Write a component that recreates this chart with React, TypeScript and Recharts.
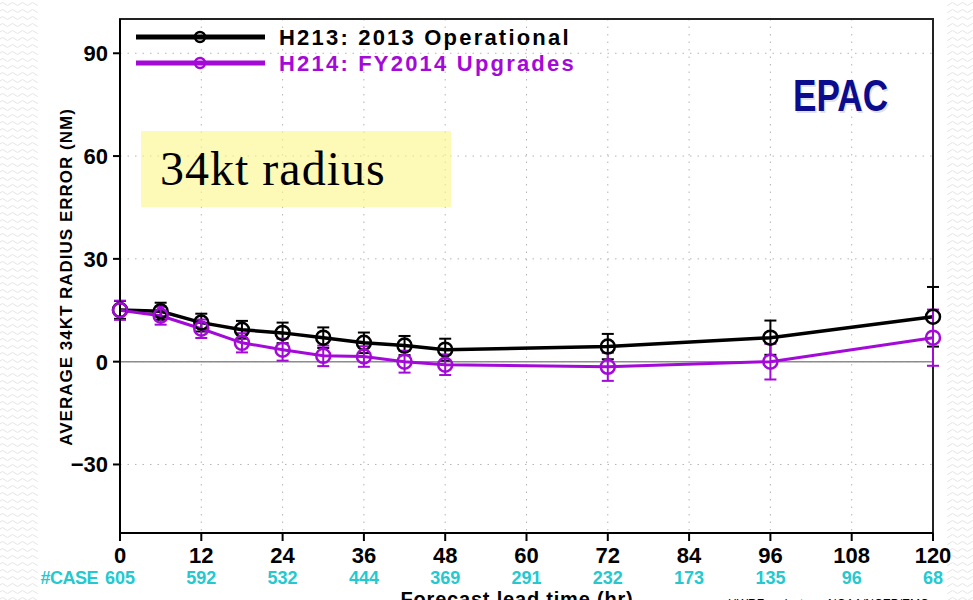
import {
  LineChart,
  Line,
  XAxis,
  YAxis,
  CartesianGrid,
  ReferenceLine,
  ReferenceArea,
  ErrorBar,
  Legend,
} from 'recharts';

// forecast lead times that have verification
const hours = [0, 6, 12, 18, 24, 30, 36, 42, 48, 72, 96, 120];
// average 34kt radius error (NM)
const h213 = [15.1, 14.7, 11.4, 9.3, 8.4, 7.0, 5.5, 4.7, 3.5, 4.4, 7.0, 13.1];
const h214 = [15.0, 13.4, 9.6, 5.5, 3.5, 1.7, 1.5, 0.0, -0.9, -1.5, 0.0, 7.0];
// error bar half-widths
const h213Err = [2.6, 2.5, 2.6, 2.6, 3.0, 3.0, 3.0, 2.8, 3.2, 3.7, 5.0, 8.7];
const h214Err = [2.8, 2.6, 2.7, 2.8, 3.2, 3.0, 3.0, 3.2, 3.0, 4.1, 5.2, 8.2];

const xTicks = [0, 12, 24, 36, 48, 60, 72, 84, 96, 108, 120];
const caseCounts = [605, 592, 532, 444, 369, 291, 232, 173, 135, 96, 68];
const yTicks = [-30, 0, 30, 60, 90];

const BLACK = '#000000';
const PURPLE = '#a30ad8';
const CYAN = '#24c9d0';
const FONT = '"Liberation Sans", Arial, sans-serif';

const legendItems = [
  { name: 'H213: 2013 Operational', color: BLACK },
  { name: 'H214: FY2014 Upgrades', color: PURPLE },
];

const data = hours.map((hr, i) => ({
  hr,
  h213: h213[i],
  h214: h214[i],
  h213Err: h213Err[i],
  h214Err: h214Err[i],
}));

function HourTick(props: any) {
  const { x, y, payload, index } = props;
  return (
    <g>
      <text x={x} y={y + 20} textAnchor="middle" fontFamily={FONT} fontWeight="bold" fontSize={22} fill="#000">
        {payload.value}
      </text>
      <text x={x} y={y + 41} textAnchor="middle" fontFamily={FONT} fontWeight="bold" fontSize={18} fill={CYAN}>
        {caseCounts[index]}
      </text>
      {index === 0 && (
        <text x={x - 22} y={y + 41} textAnchor="end" fontFamily={FONT} fontWeight="bold" fontSize={18} fill={CYAN} letterSpacing={-0.5}>
          #CASE
        </text>
      )}
    </g>
  );
}

function ErrTick(props: any) {
  const { x, y, payload } = props;
  return (
    <text x={x} y={y + 8} textAnchor="end" fontFamily={FONT} fontWeight="bold" fontSize={22} fill="#000">
      {payload.value < 0 ? '\u2212' + Math.abs(payload.value) : payload.value}
    </text>
  );
}

function LegendBox() {
  return (
    <svg width={480} height={56}>
      {legendItems.map((it, i) => (
        <g key={it.name}>
          <line x1={0} x2={129} y1={14 + i * 26} y2={14 + i * 26} stroke={it.color} strokeWidth={5} />
          <circle cx={64} cy={14 + i * 26} r={5} fill="none" stroke={it.color} strokeWidth={2.5} />
          <text x={143} y={22 + i * 26} fontFamily={FONT} fontWeight="bold" fontSize={22} fill={it.color} letterSpacing={2.2}>
            {it.name}
          </text>
        </g>
      ))}
    </svg>
  );
}

function WavyStrips() {
  return (
    <svg width={973} height={600} style={{ position: 'absolute', left: 0, top: 0 }}>
      <defs>
        <pattern id="waves" width={10} height={7} patternUnits="userSpaceOnUse">
          <path d="M0 4 Q2.5 1 5 4 T10 4" fill="none" stroke="#e4e4e4" strokeWidth={1} />
        </pattern>
      </defs>
      <rect x={0} y={0} width={38} height={600} fill="url(#waves)" />
      <rect x={947} y={0} width={26} height={600} fill="url(#waves)" />
    </svg>
  );
}

function Annotations() {
  return (
    <svg width={973} height={600} style={{ position: 'absolute', left: 0, top: 0, pointerEvents: 'none' }}>
      <rect x={141} y={131} width={310} height={76} fill="#fcf78c" fillOpacity={0.62} />
      <text x={160} y={185} fontFamily='"Liberation Serif", serif' fontSize={48} fill="#000" letterSpacing={1}>
        34kt radius
      </text>
      <text x={794.5} y={112.5} fontFamily={FONT} fontWeight="bold" fontSize={44} fill="#999" fillOpacity={0.3} textLength={95} lengthAdjust="spacingAndGlyphs">
        EPAC
      </text>
      <text x={793} y={111} fontFamily={FONT} fontWeight="bold" fontSize={44} fill="#0c0c8e" textLength={95} lengthAdjust="spacingAndGlyphs">
        EPAC
      </text>
      <text x={72} y={277} transform="rotate(-90, 72, 277)" textAnchor="middle" fontFamily={FONT} fontWeight="bold" fontSize={17} fill="#000" letterSpacing={1}>
        AVERAGE 34KT RADIUS ERROR (NM)
      </text>
      <text x={517} y={606} textAnchor="middle" fontFamily={FONT} fontWeight="bold" fontSize={20} fill="#000" letterSpacing={0.8}>
        Forecast lead time (hr)
      </text>
      <text x={728} y={608} fontFamily={FONT} fontSize={12} fill="#000">
        HWRF project
      </text>
      <text x={828} y={608} fontFamily={FONT} fontSize={12} fill="#000">
        NOAA/NCEP/EMC
      </text>
    </svg>
  );
}

export default function App() {
  return (
    <div style={{ position: 'absolute', left: 0, top: 0, width: 973, height: 600, background: '#fff', overflow: 'hidden' }}>
      <WavyStrips />
      <div style={{ position: 'absolute', left: 0, top: 0 }}>
        <LineChart width={973} height={600} data={data} margin={{ top: 19, right: 40, bottom: 0, left: 0 }}>
          <CartesianGrid stroke="#b4b4b4" strokeDasharray="1.5 6" />
          <XAxis
            dataKey="hr"
            type="number"
            domain={[0, 120]}
            ticks={xTicks}
            height={67}
            axisLine={{ stroke: '#000', strokeWidth: 2 }}
            tickLine={{ stroke: '#000', strokeWidth: 2 }}
            tickSize={8}
            tick={<HourTick />}
            interval={0}
          />
          <YAxis
            type="number"
            domain={[-50, 100]}
            ticks={yTicks}
            width={120}
            axisLine={{ stroke: '#000', strokeWidth: 2 }}
            tickLine={{ stroke: '#000', strokeWidth: 2 }}
            tickSize={7}
            tickMargin={5}
            tick={<ErrTick />}
            interval={0}
          />
          <ReferenceLine y={0} stroke="#8c8c8c" strokeWidth={1.5} />
          <ReferenceArea x1={0} x2={120} y1={-50} y2={100} fill="none" stroke="#222" strokeWidth={2} />
          <Legend
            verticalAlign="middle"
            align="center"
            layout="horizontal"
            wrapperStyle={{ position: 'absolute', top: 23, left: 136, width: 480, height: 56 }}
            content={() => <LegendBox />}
          />
          <Line
            dataKey="h213"
            stroke={BLACK}
            strokeWidth={3.5}
            dot={{ r: 7, fill: 'none', stroke: BLACK, strokeWidth: 2.5 }}
            isAnimationActive={false}
          >
            <ErrorBar dataKey="h213Err" width={6} stroke={BLACK} strokeWidth={2} isAnimationActive={false} />
          </Line>
          <Line
            dataKey="h214"
            stroke={PURPLE}
            strokeWidth={3}
            dot={{ r: 7, fill: 'none', stroke: PURPLE, strokeWidth: 2.5 }}
            isAnimationActive={false}
          >
            <ErrorBar dataKey="h214Err" width={6} stroke={PURPLE} strokeWidth={2} isAnimationActive={false} />
          </Line>
        </LineChart>
      </div>
      <Annotations />
    </div>
  );
}
